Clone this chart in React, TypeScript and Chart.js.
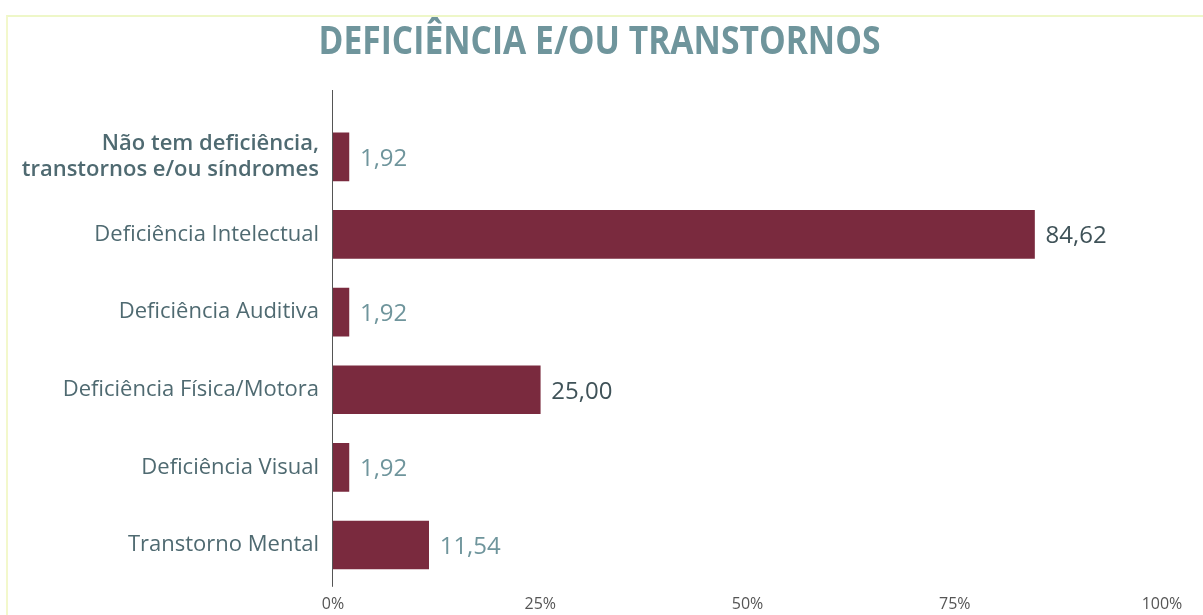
import React, { useEffect, useRef } from "react";
import { Chart, registerables } from "chart.js";

Chart.register(...registerables);

const TITLE = "DEFICIÊNCIA E/OU TRANSTORNOS";
const CATEGORIES: (string | string[])[] = [
  ["Não tem deficiência,", "transtornos e/ou síndromes"],
  "Deficiência Intelectual",
  "Deficiência Auditiva",
  "Deficiência Física/Motora",
  "Deficiência Visual",
  "Transtorno Mental",
];
const VALUES = [1.92, 84.62, 1.92, 25.0, 1.92, 11.54];
const X_TICKS_STEP = 25;
const X_MAX = 100;

const VALUE_COLORS = ["#6f959c", "#3f5258", "#6f959c", "#3f5258", "#6f959c", "#6f959c"];

const titlePlugin = {
  id: "customTitle",
  afterDraw(chart: any) {
    const { ctx } = chart;
    ctx.save();
    ctx.font = "bold 39px 'Open Sans'";
    ctx.fillStyle = "#6f959c";
    ctx.textAlign = "center";
    ctx.textBaseline = "middle";
    ctx.fillText(TITLE, chart.width / 2 - 2, 43, 562);
    ctx.restore();
  },
};

const valueLabels = {
  id: "valueLabels",
  afterDatasetsDraw(chart: any) {
    const { ctx } = chart;
    const meta = chart.getDatasetMeta(0);
    ctx.save();
    ctx.font = "24px 'Open Sans'";
    ctx.textBaseline = "middle";
    ctx.textAlign = "left";
    meta.data.forEach((bar: any, i: number) => {
      const v = VALUES[i];
      ctx.fillStyle = VALUE_COLORS[i];
      ctx.fillText(v.toFixed(2).replace(".", ","), bar.x + 11, bar.y + 2);
    });
    ctx.restore();
  },
};

const axisLine = {
  id: "axisLine",
  afterDraw(chart: any) {
    const { ctx, chartArea } = chart;
    ctx.save();
    ctx.strokeStyle = "#555";
    ctx.lineWidth = 1;
    ctx.beginPath();
    ctx.moveTo(chartArea.left - 0.5, chartArea.top - 28);
    ctx.lineTo(chartArea.left - 0.5, chartArea.bottom + 3);
    ctx.stroke();
    ctx.restore();
  },
};

export default function App() {
  const ref = useRef<HTMLCanvasElement | null>(null);
  useEffect(() => {
    if (!ref.current) return;
    const chart = new Chart(ref.current, {
      type: "bar",
      data: {
        labels: CATEGORIES,
        datasets: [
          {
            data: VALUES,
            backgroundColor: "#7a2a3e",
            barThickness: 48,
          },
        ],
      },
      options: {
        indexAxis: "y",
        animation: false,
        responsive: false,
        layout: { padding: { left: 0, right: 41, top: 118, bottom: 0 } },
        plugins: {
          legend: { display: false },
          tooltip: { enabled: false },
          title: { display: false },
        },
        scales: {
          x: {
            min: 0,
            max: X_MAX,
            ticks: {
              stepSize: X_TICKS_STEP,
              callback: (v: any) => v + "%",
              color: "#555",
              font: { family: "'Open Sans'", size: 16 },
              padding: 11,
              maxRotation: 0,
            },
            grid: { display: false, drawTicks: false },
            border: { display: false },
          },
          y: {
            afterFit: (s: any) => {
              s.width = 333;
              s.paddingTop = 0;
              s.paddingBottom = 0;
            },
            ticks: {
              color: "#4f6a71",
              font: (c: any) => ({
                family: "'Open Sans'",
                size: 22,
                weight: c.index === 0 ? "600" : "500",
                lineHeight: 1.15,
              }),
              padding: 14,
            },
            grid: { display: false, drawTicks: false },
            border: { display: false },
          },
        },
      },
      plugins: [valueLabels, axisLine, titlePlugin],
    });
    return () => chart.destroy();
  }, []);
  return (
    <div
      style={{
        position: "absolute",
        left: 0,
        top: 0,
        width: 1203,
        height: 615,
        background: "#fff",
        overflow: "hidden",
      }}
    >
      <div
        style={{
          position: "absolute",
          left: 6,
          top: 15,
          width: 1203,
          height: 620,
          borderTop: "2px solid #eef7c8",
          borderLeft: "2px solid #f3f8cc",
        }}
      />
      <canvas ref={ref} width={1203} height={625} style={{ position: "absolute", left: 0, top: 0 }} />
    </div>
  );
}
